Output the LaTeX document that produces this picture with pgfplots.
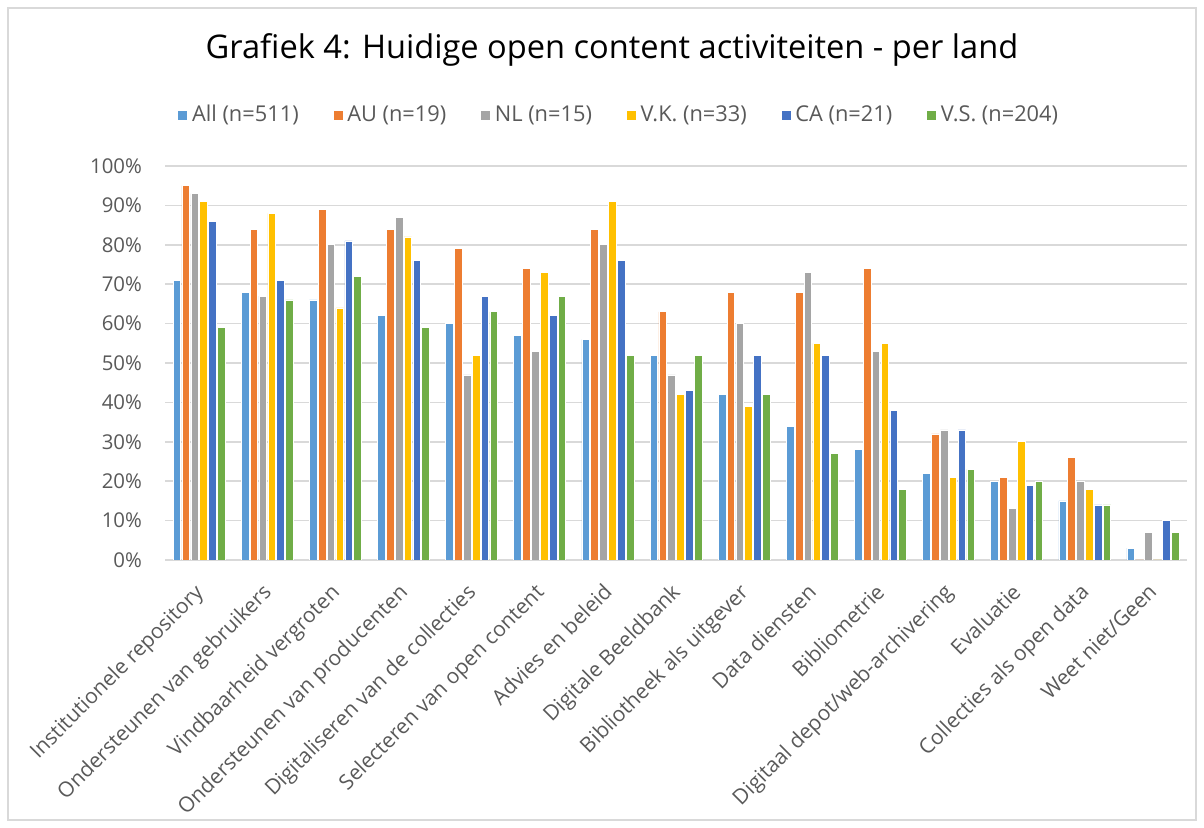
\documentclass[border=0pt]{standalone}
\usepackage{pgfplots}
\usepackage{pgfplotstable}
\pgfplotsset{compat=1.18}
\usepackage{fontspec}
\setmainfont{Open Sans}
\definecolor{cAll}{HTML}{5B9BD5}
\definecolor{cAU}{HTML}{ED7D31}
\definecolor{cNL}{HTML}{A5A5A5}
\definecolor{cVK}{HTML}{FFC000}
\definecolor{cCA}{HTML}{4472C4}
\definecolor{cVS}{HTML}{70AD47}
\definecolor{gridc}{HTML}{D9D9D9}
\definecolor{txt}{HTML}{595959}
\pgfplotstableread{
x all au nl vk ca vs
0 71 95 93 91 86 59
1 68 84 67 88 71 66
2 66 89 80 64 81 72
3 62 84 87 82 76 59
4 60 79 47 52 67 63
5 57 74 53 73 62 67
6 56 84 80 91 76 52
7 52 63 47 42 43 52
8 42 68 60 39 52 42
9 34 68 73 55 52 27
10 28 74 53 55 38 18
11 22 32 33 21 33 23
12 20 21 13 30 19 20
13 15 26 20 18 14 14
14 3 0 7 0 10 7
}\data
\begin{document}
\begin{tikzpicture}
\useasboundingbox (0,0) rectangle (602pt,414pt);
\draw[gridc, line width=0.6pt] (4pt,4pt) rectangle (598pt,410pt);
\node[font=\fontsize{16.3}{19}\selectfont, text=black] at (306pt,389pt) {Grafiek 4: Huidige open content activiteiten - per land};
\begin{axis}[
  at={(82.5pt,134pt)}, anchor=south west,
  width=511pt, height=197pt, scale only axis,
  xmin=-0.5, xmax=14.5, ymin=0, ymax=100,
  ytick={0,10,...,100},
  yticklabel={\pgfmathprintnumber{\tick}\%},
  /pgf/number format/assume math mode=true,
  xtick={0,...,14},
  xticklabels={Institutionele repository, Ondersteunen van gebruikers, Vindbaarheid vergroten, Ondersteunen van producenten, Digitaliseren van de collecties, Selecteren van open content, Advies en beleid, Digitale Beeldbank, Bibliotheek als uitgever, Data diensten, Bibliometrie, Digitaal depot/web-archivering, Evaluatie, Collecties als open data, Weet niet/Geen},
  xticklabel style={xshift=-3pt, yshift=-9.5pt, rotate=45, anchor=north east, inner sep=1pt, font=\fontsize{10.5}{12}\selectfont, text=txt},
  yticklabel style={font=\fontsize{10.2}{12}\selectfont, text=txt, xshift=-8pt},
  major tick length=0pt,
  axis line style={draw=none},
  ymajorgrids, grid style={gridc, line width=0.8pt},
  ybar,
  legend columns=6,
  legend style={draw=none, at={(0.445,1.129)}, anchor=center, font=\fontsize{10.9}{12}\selectfont, text=txt, /tikz/every even column/.append style={column sep=15pt}},
  legend image code/.code={\fill[#1] (0pt,-2.5pt) rectangle (5pt,2.5pt);},
]
\addplot[ybar, bar width=0.112, bar shift=-0.325, fill=cAll, draw=white, line width=0.3pt] table[x=x,y=all]{\data};
\addplot[ybar, bar width=0.112, bar shift=-0.195, fill=cAU, draw=white, line width=0.3pt] table[x=x,y=au]{\data};
\addplot[ybar, bar width=0.112, bar shift=-0.065, fill=cNL, draw=white, line width=0.3pt] table[x=x,y=nl]{\data};
\addplot[ybar, bar width=0.112, bar shift=0.065, fill=cVK, draw=white, line width=0.3pt] table[x=x,y=vk]{\data};
\addplot[ybar, bar width=0.112, bar shift=0.195, fill=cCA, draw=white, line width=0.3pt] table[x=x,y=ca]{\data};
\addplot[ybar, bar width=0.112, bar shift=0.325, fill=cVS, draw=white, line width=0.3pt] table[x=x,y=vs]{\data};
\legend{All (n=511), AU (n=19), NL (n=15), V.K. (n=33), CA (n=21), V.S. (n=204)}
\end{axis}
\end{tikzpicture}
\end{document}
